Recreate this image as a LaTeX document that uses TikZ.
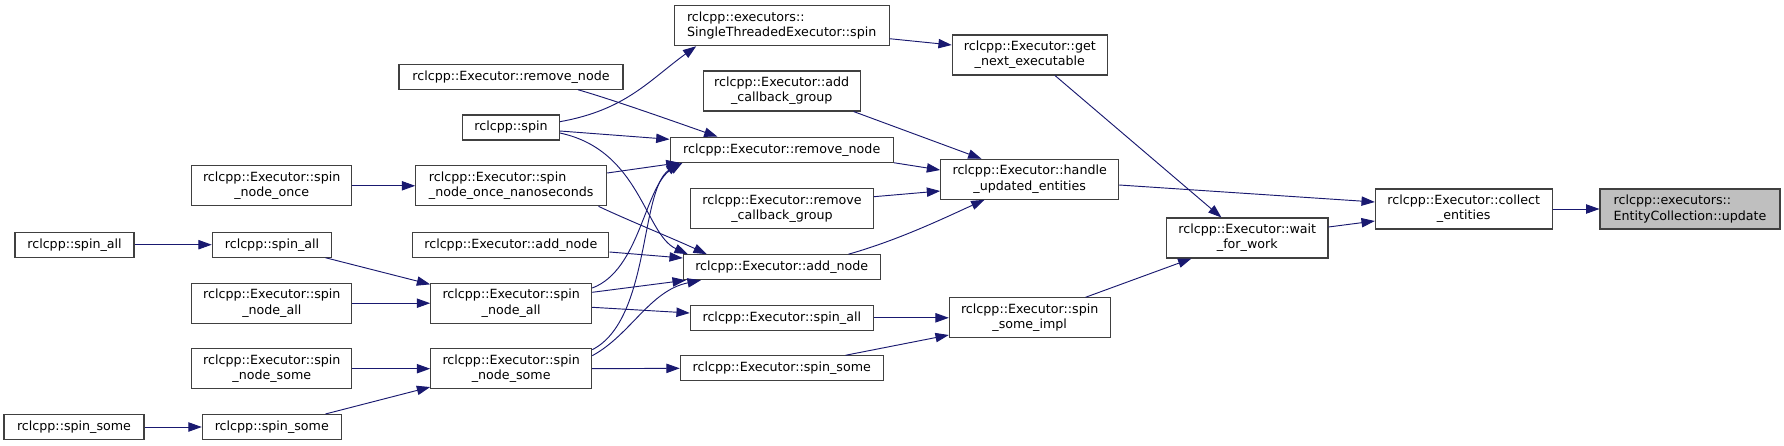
\documentclass[tikz,border=0pt]{standalone}
\usepackage{fontspec}
\usepackage{tikz}
\usetikzlibrary{arrows.meta,positioning,calc}
\newfontfamily\dxfont{DejaVu Sans}
\definecolor{edgeblue} {HTML}{191970}
\definecolor{frame}    {HTML}{404040}
\definecolor{rootfill} {HTML}{BFBFBF}

\begin{document}
\begin{tikzpicture}[x=0.75pt,y=0.75pt,
  fn/.style={draw=frame, fill=white, line width=0.8pt, inner sep=0pt, align=center,
    font=\dxfont\fontsize{9.5}{11.5}\selectfont, minimum height=18.75pt},
  two/.style={minimum height=30pt},
  wd/.style={minimum width=#1*0.75pt},
  call/.style={draw=edgeblue, line width=0.7pt, -{Triangle[length=10pt,width=7pt]}}]
  \useasboundingbox[fill=white] (0,0) rectangle (1784,-446);
  % callers, left to right
  \node[fn, wd=119] (spinall1) at (74.5,-244.7) {rclcpp::spin\_all};
  \node[fn, wd=140] (spinsome1) at (74,-427) {rclcpp::spin\_some};
  \node[fn, two, wd=160] (spinnodeonce) at (271.7,-185.8) {rclcpp::Executor::spin\\\_node\_once};
  \node[fn, wd=119.4] (spinall2) at (272,-244.7) {rclcpp::spin\_all};
  \node[fn, two, wd=160.3] (spinnodeallL) at (271.8,-303.2) {rclcpp::Executor::spin\\\_node\_all};
  \node[fn, two, wd=160.3] (spinnodesomeL) at (271.8,-368.7) {rclcpp::Executor::spin\\\_node\_some};
  \node[fn, wd=139] (spinsome2) at (271.8,-427) {rclcpp::spin\_some};
  \node[fn, wd=224] (rmnodeL) at (511,-76.7) {rclcpp::Executor::remove\_node};
  \node[fn, wd=96.6] (spin) at (511,-127.5) {rclcpp::spin};
  \node[fn, two, wd=191, align=left] (nanosec) at (511.2,-185.8) {rclcpp::Executor::spin\\\_node\_once\_nanoseconds};
  \node[fn, wd=196.3] (addnodeL) at (510.8,-244.7) {rclcpp::Executor::add\_node};
  \node[fn, two, wd=161] (spinnodeallM) at (511.2,-303.2) {rclcpp::Executor::spin\\\_node\_all};
  \node[fn, two, wd=161] (spinnodesomeM) at (511.2,-368.7) {rclcpp::Executor::spin\\\_node\_some};
  \node[fn, two, wd=214.7, align=left] (ste) at (781.7,-25.7) {rclcpp::executors::\\SingleThreadedExecutor::spin};
  \node[fn, two, wd=157.3] (addcbg) at (781.7,-91) {rclcpp::Executor::add\\\_callback\_group};
  \node[fn, wd=223.3] (rmnodeM) at (781.7,-149.7) {rclcpp::Executor::remove\_node};
  \node[fn, two, wd=182.6] (removecbg) at (782,-208.7) {rclcpp::Executor::remove\\\_callback\_group};
  \node[fn, wd=196.7] (addnodeM) at (781.7,-267.2) {rclcpp::Executor::add\_node};
  \node[fn, wd=183] (spinallM) at (781.8,-317.8) {rclcpp::Executor::spin\_all};
  \node[fn, wd=203] (spinsomeM) at (781.8,-368.3) {rclcpp::Executor::spin\_some};
  \node[fn, two, wd=155] (getnext) at (1029.8,-55) {rclcpp::Executor::get\\\_next\_executable};
  \node[fn, two, wd=178] (handle) at (1029.7,-179.3) {rclcpp::Executor::handle\\\_updated\_entities};
  \node[fn, two, wd=160.7] (spinsomeimpl) at (1029.7,-317.8) {rclcpp::Executor::spin\\\_some\_impl};
  \node[fn, two, wd=161.3] (waitforwork) at (1247.3,-238) {rclcpp::Executor::wait\\\_for\_work};
  \node[fn, two, wd=176.7] (collect) at (1463.7,-209) {rclcpp::Executor::collect\\\_entities};
  \node[fn, two, wd=180, align=left, fill=rootfill] (update) at (1690,-209) {rclcpp::executors::\\EntityCollection::update};

  \draw[call] (spinall1.east) -- (spinall2.west);
  \draw[call] (spinsome1.east) -- (spinsome2.west);
  \draw[call] (spinnodeonce.east) -- (nanosec.west);
  \draw[call] ($(spinall2.south east)+(-6.7,0)$) -- ($(spinnodeallM.north west)+(0,-1.7)$);
  \draw[call] (spinnodeallL.east) -- (spinnodeallM.west);
  \draw[call] (spinnodesomeL.east) -- (spinnodesomeM.west);
  \draw[call] ($(spinsome2.north east)+(-16.3,0)$) -- ($(spinnodesomeM.south west)+(0,2.2)$);
  \draw[call] ($(rmnodeL.south)+(67,0)$) .. controls +(35,-10) and +(-40,14) .. ($(rmnodeM.north west)+(48,0)$);
  \draw[call] ($(spin.east)+(0,5.8)$) .. controls +(66,11.7) and +(-47,-34) .. ($(ste.south west)+(22.4,0)$);
  \draw[call] ($(spin.east)+(0,-3.5)$) -- ($(rmnodeM.west)+(0,10.4)$);
  \draw[call] ($(spin.east)+(0,-5.5)$) .. controls +(80.7,-17) and +(-43,19.7) .. ($(addnodeM.north west)+(5,0)$);
  \draw[call] ($(nanosec.east)+(0,12.8)$) -- ($(rmnodeM.south west)+(10,0)$);
  \draw[call] ($(nanosec.south east)+(-8.7,0)$) .. controls +(25,-12) and +(-30,14) .. ($(addnodeM.north west)+(24,0)$);
  \draw[call] ($(addnodeL.east)+(0,-7.3)$) -- ($(addnodeM.west)+(0,9.2)$);
  \draw[call] ($(spinnodeallM.east)+(0,15.2)$) .. controls +(48.3,18) and +(-38,-22.7) .. ($(rmnodeM.south west)+(13,0)$);
  \draw[call] ($(spinnodesomeM.east)+(0,19)$) .. controls +(58.3,29.7) and +(-40,-27.7) .. ($(rmnodeM.south west)+(10,0)$);
  \draw[call] ($(spinnodeallM.east)+(0,10.9)$) -- ($(addnodeM.south west)+(3,0)$);
  \draw[call] ($(spinnodeallM.east)+(0,-4.1)$) -- ($(spinallM.west)+(0,4.8)$);
  \draw[call] ($(spinnodesomeM.east)+(0,13)$) .. controls +(38.3,20.7) and +(-51,-10.3) .. ($(addnodeM.south west)+(18,0)$);
  \draw[call] (spinnodesomeM.east) -- (spinsomeM.west);
  \draw[call] (spinallM.east) -- (spinsomeimpl.west);
  \draw[call] ($(spinsomeM.north east)+(-38.3,0)$) -- ($(spinsomeimpl.west)+(0,-17.2)$);
  \draw[call] ($(ste.east)+(0,-13)$) -- ($(getnext.west)+(0,10)$);
  \draw[call] ($(addcbg.south east)+(-7.3,0)$) -- ($(handle.north west)+(41.3,0)$);
  \draw[call] (rmnodeM.south east) -- ($(handle.west)+(0,9.3)$);
  \draw[call] ($(removecbg.east)+(0,12)$) -- ($(handle.west)+(0,-11.7)$);
  \draw[call] ($(addnodeM.north east)+(-32,0)$) .. controls +(52,14.7) and +(-35,-15.7) .. ($(handle.south west)+(44.3,0)$);
  \draw[call] ($(getnext.south)+(25.2,0)$) -- ($(waitforwork.north west)+(55.3,0)$);
  \draw[call] ($(handle.east)+(0,-5.7)$) -- ($(collect.west)+(0,7)$);
  \draw[call] ($(spinsomeimpl.north east)+(-25,0)$) -- ($(waitforwork.south west)+(25.3,0)$);
  \draw[call] ($(waitforwork.east)+(0,11)$) -- ($(collect.west)+(0,-12)$);
  \draw[call] (collect) -- (update);
\end{tikzpicture}
\end{document}
